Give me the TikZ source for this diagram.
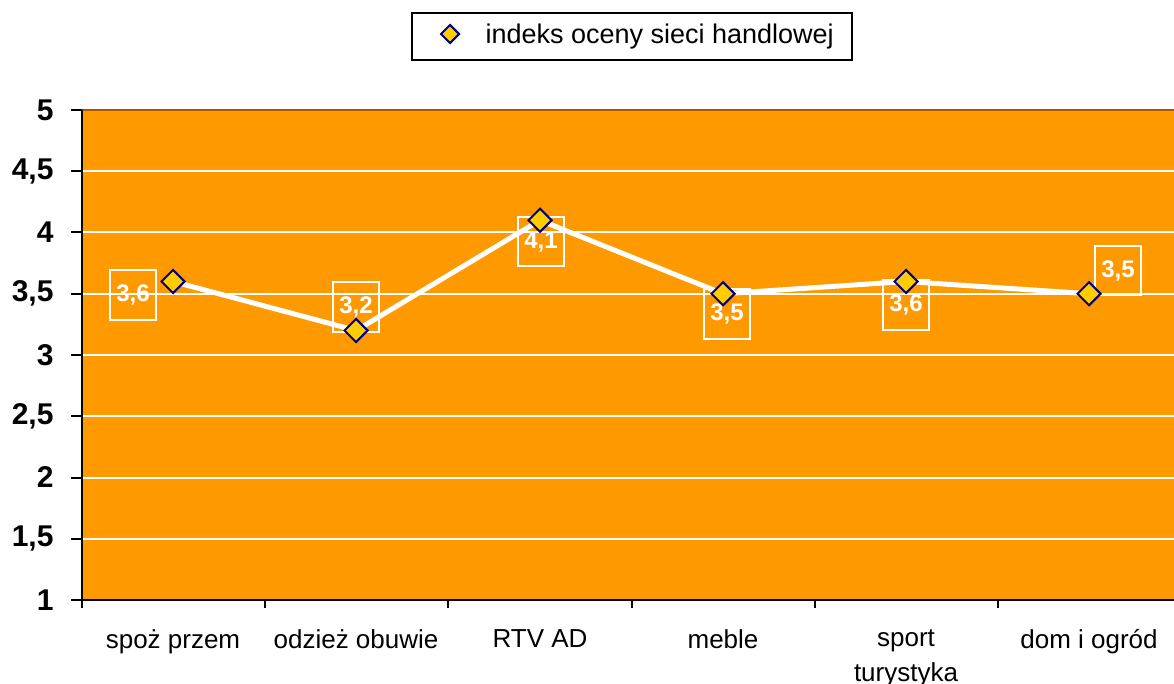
\documentclass[tikz,border=0pt]{standalone}
\usepackage{fontspec}
\setmainfont{Liberation Sans}
\usetikzlibrary{shapes.geometric}

\definecolor{plotbg}{HTML}{FF9900}
\definecolor{plotedge}{HTML}{B35400}
\definecolor{markfill}{HTML}{FFCC00}
\definecolor{markdraw}{HTML}{000080}

\begin{document}
\begin{tikzpicture}[x=1pt,y=-1pt,
  ptmark/.style={diamond,draw=markdraw,fill=markfill,line width=2pt,inner sep=0pt,minimum size=24pt},
  valbox/.style={draw=white,line width=2pt,text=white,minimum width=46pt,minimum height=49pt,inner sep=0pt,font=\fontsize{24}{26}\selectfont\bfseries},
  ylab/.style={anchor=east,font=\fontsize{30}{32}\selectfont\bfseries},
  catlab/.style={anchor=north,align=center,font=\fontsize{26}{35}\selectfont}]
\useasboundingbox (0,0) rectangle (1174,684);

% plot area and grid
\fill[plotbg] (82,110) rectangle (1174,600);
\foreach \y in {171.25,232.5,293.75,355,416.25,477.5,538.75}
  \draw[white,line width=2pt] (82,\y) -- (1174,\y);
\draw[plotedge,line width=1.5pt] (82,110) -- (1174,110);

% axes
\draw[line width=2pt] (82,110) -- (82,608);
\draw[line width=2pt] (82,600) -- (1174,600);
\foreach \y in {110,171.25,232.5,293.75,355,416.25,477.5,538.75,600}
  \draw[line width=2pt] (71,\y) -- (82,\y);
\foreach \x in {82,265,448,632,815,998}
  \draw[line width=2pt] (\x,600) -- (\x,608);

\node[ylab] (y5) at (57,110) {5};
\node[ylab] (y45) at (57,171.25) {4,5};
\node[ylab] (y4) at (57,232.5) {4};
\node[ylab] (y35) at (57,293.75) {3,5};
\node[ylab] (y3) at (57,355) {3};
\node[ylab] (y25) at (57,416.25) {2,5};
\node[ylab] (y2) at (57,477.5) {2};
\node[ylab] (y15) at (57,538.75) {1,5};
\node[ylab] (y1) at (57,600) {1};

\node[catlab] (c1) at (173,626) {spoż przem};
\node[catlab] (c2) at (356,626) {odzież obuwie};
\node[catlab] (c3) at (540,626) {RTV AD};
\node[catlab] (c4) at (723,626) {meble};
\node[catlab] (c5) at (906,626) {sport\\turystyka};
\node[catlab] (c6) at (1089,626) {dom i ogród};

% data points
\coordinate (v1) at (173,281.5);
\coordinate (v2) at (356,330.5);
\coordinate (v3) at (540,220.25);
\coordinate (v4) at (723,293.75);
\coordinate (v5) at (906,281.5);
\coordinate (v6) at (1089,293.75);

\node[valbox] (b1) at (133,295) {3,6};
\node[valbox] (b2) at (356,307) {3,2};
\node[valbox] (b3) at (541,242) {4,1};
\node[valbox] (b4) at (727,314) {3,5};
\node[valbox] (b5) at (906,305) {3,6};
\node[valbox] (b6) at (1118,271) {3,5};

\draw[white,line width=5pt,line join=round] (v1) -- (v2) -- (v3) -- (v4) -- (v5) -- (v6);

\node[ptmark] (m1) at (v1) {};
\node[ptmark] (m2) at (v2) {};
\node[ptmark] (m3) at (v3) {};
\node[ptmark] (m4) at (v4) {};
\node[ptmark] (m5) at (v5) {};
\node[ptmark] (m6) at (v6) {};

% legend
\draw[line width=2pt] (412,13) rectangle (852,60);
\node[ptmark,minimum size=19pt] (lm) at (450,34) {};
\node[anchor=west,font=\fontsize{27}{30}\selectfont] (lt) at (482,37) {indeks oceny sieci handlowej};

\end{tikzpicture}
\end{document}
